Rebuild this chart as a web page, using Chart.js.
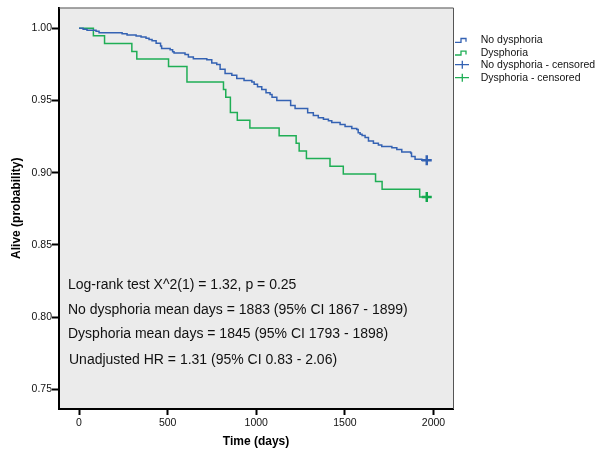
<!DOCTYPE html>
<html>
<head>
<meta charset="utf-8">
<script src="https://cdn.jsdelivr.net/npm/chart.js@4/dist/chart.umd.min.js"></script>
<style>
  html, body { margin: 0; padding: 0; background: #fff; }
</style>
</head>
<body>
<canvas id="kmChart" width="595" height="449"></canvas>
<script>
// Kaplan-Meier steps: day of each drop, survival after it
const noDysDays = [0, 23, 45, 96, 113, 243, 271, 322, 350, 378, 395, 412, 435, 460, 466, 514, 528, 536, 598, 617,
  645, 721, 749, 777, 796, 824, 862, 890, 931, 975, 988, 1007, 1031, 1055, 1078, 1089, 1116, 1194, 1219, 1290,
  1322, 1350, 1379, 1407, 1426, 1473, 1501, 1539, 1567, 1575, 1586, 1597, 1614, 1633, 1661, 1689, 1708, 1765,
  1793, 1821, 1871, 1876, 1896, 1934, 1962];
const noDysSurv = [1, 0.9993, 0.9986, 0.9979, 0.9968, 0.9961, 0.9952, 0.9945, 0.9938, 0.9931, 0.9922, 0.9913,
  0.9895, 0.9876, 0.9860, 0.9851, 0.9836, 0.9828, 0.9817, 0.9800, 0.9789, 0.9782, 0.9759, 0.9748, 0.9715,
  0.9686, 0.9674, 0.9651, 0.9637, 0.9628, 0.9612, 0.9595, 0.9575, 0.9553, 0.9541, 0.9522, 0.9499, 0.9464,
  0.9444, 0.9414, 0.9396, 0.9380, 0.9369, 0.9360, 0.9347, 0.9333, 0.9319, 0.9305, 0.9298, 0.9276, 0.9265,
  0.9257, 0.9244, 0.9219, 0.9203, 0.9191, 0.9181, 0.9172, 0.9160, 0.9143, 0.9136, 0.9111, 0.9093, 0.9086, 0.9086];

const dysDays = [0, 81, 144, 298, 326, 505, 609, 815, 828, 854, 893, 964, 1129, 1225, 1242, 1283, 1416, 1491,
  1673, 1710, 1922, 1962];
const dysSurv = [1, 0.9948, 0.9893, 0.9838, 0.9786, 0.9734, 0.9628, 0.9575, 0.9522, 0.9416, 0.9362, 0.9309,
  0.9255, 0.9203, 0.9150, 0.9097, 0.9044, 0.8991, 0.8938, 0.8885, 0.8831, 0.8831];

const censorDay = 1962;
const xTicks = [0, 500, 1000, 1500, 2000];
const yTicks = [0.75, 0.80, 0.85, 0.90, 0.95, 1.00];

const seriesNames = ['No dysphoria', 'Dysphoria', 'No dysphoria - censored', 'Dysphoria - censored'];
const statLines = [
  'Log-rank test X^2(1) = 1.32, p = 0.25',
  'No dysphoria mean days = 1883 (95% CI 1867 - 1899)',
  'Dysphoria mean days = 1845 (95% CI 1793 - 1898)',
  'Unadjusted HR = 1.31 (95% CI 0.83 - 2.06)'
];

const BLUE = '#3462b3';
const GREEN = '#1fae55';
const FONT = '"Liberation Sans", Arial, Helvetica, sans-serif';

const toPoints = (xs, ys) => xs.map((x, i) => ({ x: x, y: ys[i] }));

// background, frame, legend and the test results
const kmDecor = {
  id: 'kmDecor',
  beforeDraw(chart) {
    const { ctx, chartArea: a } = chart;
    ctx.save();
    ctx.fillStyle = '#ebebeb';
    ctx.fillRect(a.left, a.top, a.right - a.left, a.bottom - a.top);
    ctx.restore();
  },
  afterDraw(chart) {
    const { ctx, chartArea: a } = chart;
    ctx.save();
    ctx.strokeStyle = '#555';
    ctx.lineWidth = 1;
    ctx.beginPath();
    ctx.moveTo(a.left, a.top + 0.5);
    ctx.lineTo(a.right + 0.5, a.top + 0.5);
    ctx.lineTo(a.right + 0.5, a.bottom);
    ctx.stroke();

    // stats text
    ctx.fillStyle = '#111';
    ctx.font = '14px ' + FONT;
    ctx.textAlign = 'left';
    ctx.textBaseline = 'alphabetic';
    const baseY = [281, 306, 330.5, 356];
    statLines.forEach((t, i) => ctx.fillText(t, a.left + 9 + (i === 3 ? 1 : 0), a.top + baseY[i]));

    // legend
    const lx = a.right + 2;
    const rows = [40, 52.7, 64.7, 77.7];
    const colors = [BLUE, GREEN, BLUE, GREEN];
    ctx.font = '10.5px ' + FONT;
    ctx.textBaseline = 'middle';
    seriesNames.forEach((name, i) => {
      const cy = rows[i];
      ctx.strokeStyle = colors[i];
      ctx.lineWidth = 1.3;
      ctx.beginPath();
      if (i < 2) {
        ctx.moveTo(lx, cy + 2.3);
        ctx.lineTo(lx + 6, cy + 2.3);
        ctx.lineTo(lx + 6, cy - 1.5);
        ctx.lineTo(lx + 11, cy - 1.5);
        ctx.lineTo(lx + 11, cy + 1.7);
      } else {
        ctx.moveTo(lx, cy);
        ctx.lineTo(lx + 14, cy);
        ctx.moveTo(lx + 7.3, cy - 4);
        ctx.lineTo(lx + 7.3, cy + 4);
      }
      ctx.stroke();
      ctx.fillStyle = '#111';
      ctx.fillText(name, lx + 25.7, cy);
    });
    ctx.restore();
  }
};

new Chart(document.getElementById('kmChart'), {
  type: 'line',
  data: {
    datasets: [
      {
        label: seriesNames[0],
        data: toPoints(noDysDays, noDysSurv),
        borderColor: BLUE,
        borderWidth: 1.5,
        stepped: true,
        pointRadius: 0
      },
      {
        label: seriesNames[1],
        data: toPoints(dysDays, dysSurv),
        borderColor: GREEN,
        borderWidth: 1.5,
        stepped: true,
        pointRadius: 0
      },
      {
        label: seriesNames[2],
        data: [{ x: censorDay, y: noDysSurv[noDysSurv.length - 1] }],
        showLine: false,
        pointStyle: 'cross',
        pointRadius: 5,
        borderWidth: 2.5,
        borderColor: BLUE
      },
      {
        label: seriesNames[3],
        data: [{ x: censorDay, y: dysSurv[dysSurv.length - 1] }],
        showLine: false,
        pointStyle: 'cross',
        pointRadius: 5,
        borderWidth: 2.5,
        borderColor: '#0ea64a'
      }
    ]
  },
  options: {
    responsive: false,
    animation: false,
    layout: { padding: { top: 6, right: 142, left: 0, bottom: 0 } },
    plugins: {
      legend: { display: false },
      tooltip: { enabled: false }
    },
    scales: {
      x: {
        type: 'linear',
        min: -113,
        max: 2110,
        afterBuildTicks: s => { s.ticks = xTicks.map(v => ({ value: v })); },
        afterFit: s => { s.height = 40; },
        grid: { drawOnChartArea: false, tickLength: 6, tickWidth: 2, tickColor: '#000' },
        border: { display: true, color: '#000', width: 2 },
        ticks: {
          font: { family: FONT, size: 10.5 }, color: '#111', padding: 2, maxRotation: 0,
          callback: v => String(v)
        },
        title: {
          display: true, text: 'Time (days)', color: '#000',
          font: { family: FONT, size: 12, weight: 'bold' }, padding: { top: 0, bottom: 0 }
        }
      },
      y: {
        type: 'linear',
        min: 0.7364,
        max: 1.0143,
        afterBuildTicks: s => { s.ticks = yTicks.map(v => ({ value: v })); },
        afterFit: s => { s.width = 59; },
        grid: { drawOnChartArea: false, tickLength: 7, tickWidth: 2, tickColor: '#000' },
        border: { display: true, color: '#000', width: 2 },
        ticks: {
          font: { family: FONT, size: 10.5 }, color: '#111', padding: 0,
          callback: v => v.toFixed(2)
        },
        title: {
          display: true, text: 'Alive (probability)', color: '#000',
          font: { family: FONT, size: 12, weight: 'bold' }, padding: { top: 9, bottom: 0 }
        }
      }
    }
  },
  plugins: [kmDecor]
});
</script>
</body>
</html>
